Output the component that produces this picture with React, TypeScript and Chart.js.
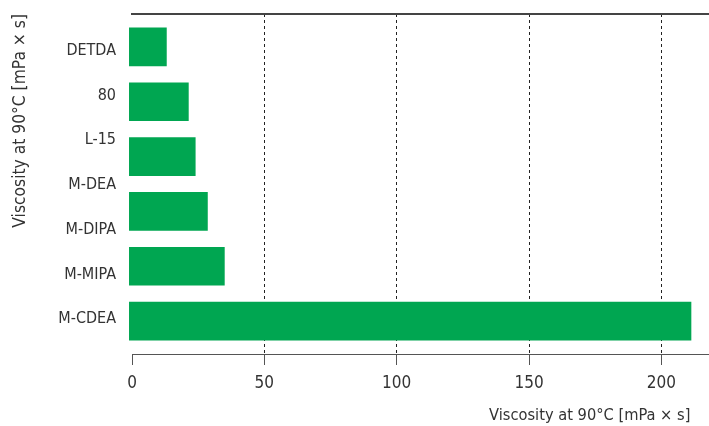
import React, { useEffect, useRef } from 'react';
import { Chart, registerables } from 'chart.js';

Chart.register(...registerables);

// Category tick labels on the left axis (top to bottom)
const categoryLabels = ['DETDA', '80', 'L-15', 'M-DEA', 'M-DIPA', 'M-MIPA', 'M-CDEA'];
// Bar values (top to bottom), viscosity at 90°C in mPa × s
const barValues = [13, 21.3, 23.9, 28.5, 34.9, 211.2];
// Value axis ticks
const xTicks = [0, 50, 100, 150, 200];
const axisTitle = 'Viscosity at 90°C [mPa × s]';

const FONT = "'DejaVu Sans Condensed', 'Liberation Sans Narrow', 'DejaVu Sans', sans-serif";
const TEXT = '#333333';
const GREEN = '#00a651';

export default function App() {
  const ref = useRef<HTMLCanvasElement | null>(null);

  useEffect(() => {
    document.body.style.margin = '0';
    const canvas = ref.current;
    if (!canvas) return;
    const nLab = categoryLabels.length;
    const chart = new Chart(canvas, {
      type: 'bar',
      data: {
        datasets: [
          {
            data: barValues.map((v, i) => ({ x: v, y: i })),
            backgroundColor: GREEN,
            borderWidth: 0,
            barThickness: 38,
            base: -1,
            clip: false,
            xAxisID: 'x',
            yAxisID: 'yb',
          } as any,
        ],
      },
      options: {
        indexAxis: 'y',
        animation: false,
        responsive: false,
        maintainAspectRatio: false,
        layout: { padding: 0 },
        plugins: { legend: { display: false }, tooltip: { enabled: false }, title: { display: false } },
        scales: {
          x: {
            type: 'linear',
            position: 'bottom',
            min: 0,
            max: 218,
            offset: false,
            afterFit: (s: any) => { s.height = 72; s.paddingLeft = 0; s.paddingRight = 0; },
            afterBuildTicks: (s: any) => { s.ticks = xTicks.map((v) => ({ value: v })); },
            ticks: { font: { family: FONT, size: 17 }, color: TEXT, padding: 8, includeBounds: false },
            grid: {
              offset: false,
              color: (c: any) => (c.tick && c.tick.value === 0 ? 'rgba(0,0,0,0)' : '#222222'),
              lineWidth: 1,
              tickLength: 11,
              tickColor: '#555555',
              tickWidth: 1,
              tickBorderDash: [],
            },
            border: { display: true, color: '#555555', width: 1, dash: [3, 3] },
            title: {
              display: true,
              text: axisTitle + '\u00a0\u00a0\u00a0\u00a0',
              align: 'end',
              color: TEXT,
              font: { family: FONT, size: 16.3 },
              padding: { top: 0, bottom: 0 },
            },
          },
          x2: {
            type: 'linear',
            position: 'top',
            min: 0,
            max: 218,
            offset: false,
            afterFit: (s: any) => { s.height = 14; s.paddingLeft = 0; s.paddingRight = 0; },
            ticks: { display: false },
            grid: { display: false, drawTicks: false, offset: false },
            border: { display: true, color: '#444444', width: 2 },
          },
          yb: {
            type: 'linear',
            position: 'left',
            reverse: true,
            offset: false,
            min: -0.6,
            max: 5.6,
            display: false,
            grid: { offset: false },
          },
          yl: {
            type: 'linear',
            position: 'left',
            offset: false,
            min: -0.778,
            max: 6.825,
            afterFit: (s: any) => { s.width = 132; s.paddingTop = 0; s.paddingBottom = 0; },
            afterBuildTicks: (s: any) => { s.ticks = categoryLabels.map((_, i) => ({ value: i })); },
            ticks: {
              autoSkip: false,
              padding: 16,
              color: TEXT,
              font: { family: FONT, size: 16 },
              callback: (v: any) => categoryLabels[nLab - 1 - (v as number)] ?? '',
            },
            grid: { display: false, drawTicks: false, offset: false },
            border: { display: false },
            title: {
              display: true,
              text: axisTitle,
              align: 'end',
              color: TEXT,
              font: { family: FONT, size: 17.3 },
              padding: { top: 10, bottom: 0 },
            },
          },
        },
      } as any,
    });
    return () => chart.destroy();
  }, []);

  return (
    <div style={{ width: 709, height: 426 }}>
      <canvas ref={ref} width={709} height={426} style={{ display: 'block' }} />
    </div>
  );
}
